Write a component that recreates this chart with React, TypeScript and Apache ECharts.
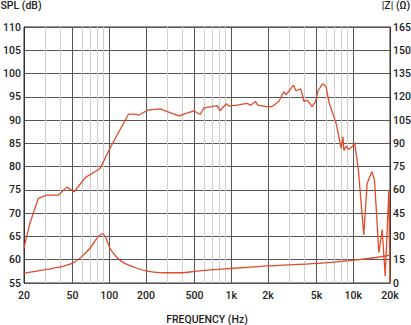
import React, { useEffect, useRef } from "react";
import * as echarts from "echarts";

const splFreq = [20, 21, 22.4, 26.2, 30.7, 38.4, 44.9, 51.5, 63.9, 84.2, 101, 144, 158, 174, 210, 262, 288, 372, 492, 557, 596, 652, 769, 807, 912, 956, 1114, 1345, 1440, 1577, 1650, 1926, 2163, 2452, 2697, 2811, 3082, 3240, 3383, 3711, 3952, 4206, 4603, 4905, 5143, 5599, 5977, 6360, 7239, 7958, 8223, 8380, 8760, 9153, 9640, 10270, 11015, 12200, 12985, 14200, 14930, 16220, 17260, 18270, 19580, 20000];
const splDb = [62.5, 64.9, 67.9, 73.2, 73.9, 73.9, 75.6, 74.6, 77.7, 79.6, 83.9, 91.3, 91.3, 91.1, 92.2, 92.4, 92.0, 90.9, 92.0, 91.2, 92.6, 92.8, 93.1, 92.0, 93.5, 93.0, 93.2, 93.6, 93.2, 94.0, 93.2, 92.9, 92.9, 94.0, 96.1, 95.4, 96.8, 97.5, 96.3, 96.7, 94.0, 94.3, 92.9, 94.0, 96.3, 97.8, 97.2, 93.6, 89.3, 83.9, 86.4, 83.5, 84.4, 83.7, 84.1, 85.1, 79.3, 65.3, 76.4, 78.9, 77.1, 61.5, 66.5, 56.5, 75.0, 55];

const zFreq = [20, 30.7, 40.9, 51, 59.4, 69.6, 79.1, 87.3, 92.9, 101.3, 115, 130.7, 169, 204, 278, 384, 527, 769, 1053, 1984, 5100, 10270, 15900, 20000];
const zOhm = [6.3, 8.8, 10.5, 13.1, 17, 22.4, 28.8, 31.6, 29.8, 22.4, 16.6, 13.1, 9.5, 7.7, 6.6, 6.6, 7.7, 8.8, 9.5, 11.0, 12.7, 14.8, 16.6, 18.0];

const majorTicks = [20, 50, 100, 200, 500, 1000, 2000, 5000, 10000, 20000];
const minorTicks = [30, 40, 60, 70, 80, 90, 300, 400, 600, 700, 800, 900, 3000, 4000, 6000, 7000, 8000, 9000];

const FONT = "Roboto, 'Liberation Sans', sans-serif";
const RED = "#e04b2b";

export default function App() {
  const ref = useRef<HTMLDivElement>(null);
  useEffect(() => {
    if (!ref.current) return;
    const chart = echarts.init(ref.current, undefined, { renderer: "svg" });
    const text = { fontFamily: FONT, fontSize: 10.5, fontWeight: 500, color: "#222" };
    chart.setOption({
      animation: false,
      backgroundColor: "#fff",
      grid: {
        left: 24, right: 21, top: 27, bottom: 42, show: true, borderColor: "#333", borderWidth: 1,
        outerBoundsMode: "none", containLabel: false,
      },
      xAxis: [
        {
          type: "log", logBase: 10, min: 20, max: 20000, position: "top",
          axisLine: { show: false }, axisTick: { show: false, customValues: minorTicks },
          axisLabel: { show: false },
          splitLine: { show: true, lineStyle: { color: "#cfcfcf", width: 1 } },
        },
        {
          type: "log", logBase: 10, min: 20, max: 20000, position: "bottom",
          axisLine: { show: false }, axisTick: { show: false, customValues: majorTicks },
          axisLabel: {
            customValues: majorTicks, margin: 7, ...text,
            formatter: (v: number) => (v >= 1000 ? v / 1000 + "k" : String(v)),
          },
          splitLine: { show: true, lineStyle: { color: "#555", width: 1 } },
          name: "FREQUENCY (Hz)", nameLocation: "middle", nameGap: 31, nameTextStyle: { ...text },
        },
      ],
      yAxis: [
        {
          type: "value", min: 55, max: 110, interval: 5, position: "left",
          axisLine: { show: true, lineStyle: { color: "#333", width: 1 } }, axisTick: { show: false },
          axisLabel: { margin: 3, ...text },
          splitLine: { show: true, lineStyle: { color: "#555", width: 1 } },
          name: "SPL (dB)", nameLocation: "end", nameGap: 16,
          nameTextStyle: { ...text, align: "center", padding: [0, 6, 0, 0] },
        },
        {
          type: "value", min: 0, max: 165, interval: 15, position: "right",
          axisLine: { show: true, lineStyle: { color: "#333", width: 1 } }, axisTick: { show: false },
          axisLabel: { margin: 3, ...text },
          splitLine: { show: false },
          name: "|Z| (Ω)", nameLocation: "end", nameGap: 16,
          nameTextStyle: { ...text, align: "center", padding: [0, 0, 0, 12] },
        },
      ],
      series: [
        {
          type: "line", xAxisIndex: 1, yAxisIndex: 0, symbol: "none", smooth: false,
          lineStyle: { color: RED, width: 1.3 },
          data: splFreq.map((f, i) => [f, splDb[i]]),
        },
        {
          type: "line", xAxisIndex: 1, yAxisIndex: 1, symbol: "none", smooth: 0.3,
          lineStyle: { color: RED, width: 1.3 },
          data: zFreq.map((f, i) => [f, zOhm[i]]),
        },
      ],
    });
    return () => chart.dispose();
  }, []);
  return <div ref={ref} style={{ width: 411, height: 325, position: "absolute", left: 0, top: 0 }} />;
}
